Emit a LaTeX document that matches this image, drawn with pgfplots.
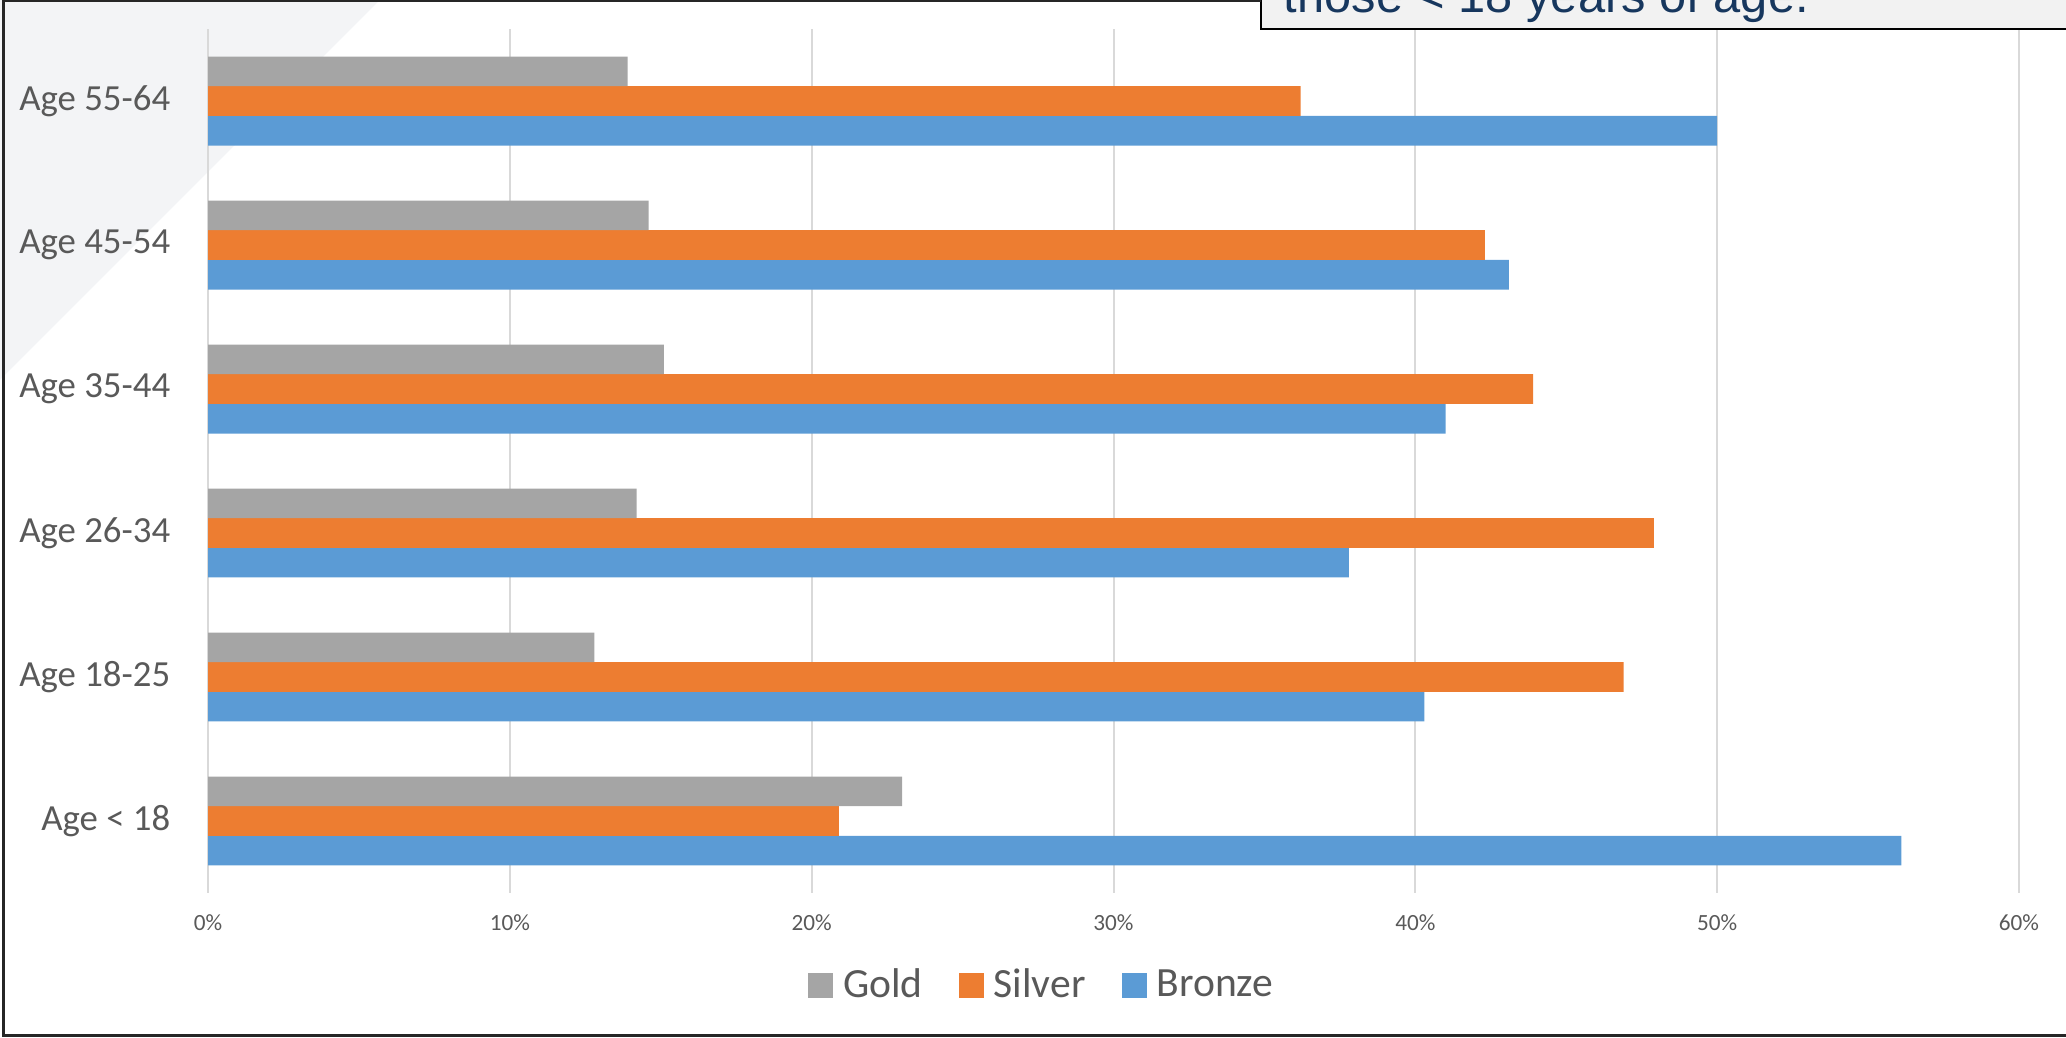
\documentclass[border=0pt]{standalone}
\usepackage{pgfplots}
\pgfplotsset{compat=1.18}
\usepackage{fontspec}
\setmainfont{Carlito}
\newfontfamily\arialf{Liberation Sans}
\definecolor{cgold}{HTML}{A5A5A5}
\definecolor{csilver}{HTML}{ED7D31}
\definecolor{cbronze}{HTML}{5B9BD5}
\definecolor{ctext}{HTML}{595959}
\definecolor{cgrid}{HTML}{D9D9D9}
\definecolor{ctri}{HTML}{F3F4F6}
\definecolor{cbox}{HTML}{F2F2F2}
\definecolor{cboxtext}{HTML}{17375E}
\begin{document}
\begin{tikzpicture}[x=0.25pt,y=0.25pt]
\useasboundingbox (0,0) rectangle (2066,1038);
\clip (0,0) rectangle (2066,1038);
\fill[ctri] (0,1038) -- (380,1038) -- (0,658) -- cycle;
\begin{axis}[
  at={(52pt,36.25pt)}, anchor=south west,
  scale only axis, width=452.75pt, height=216pt,
  xbar, xmin=0, xmax=60, ymin=-0.5, ymax=5.5,
  bar width=0.206,
  axis line style={draw=none},
  major tick length=0pt,
  xtick={0,10,...,60},
  xticklabels={0\%,10\%,20\%,30\%,40\%,50\%,60\%},
  ytick={0,...,5},
  yticklabels={Age < 18, Age 18-25, Age 26-34, Age 35-44, Age 45-54, Age 55-64},
  xmajorgrids, grid style={cgrid, line width=0.5pt},
  xticklabel style={font=\fontsize{5.8}{7}\selectfont, text=ctext, inner sep=0pt, anchor=base, yshift=-9.5pt},
  yticklabel style={font=\fontsize{9.2}{11}\selectfont, text=ctext, inner sep=0pt, anchor=east, xshift=-9.25pt},
  legend columns=3, reverse legend,
  legend style={draw=none, fill=none, at={(0.331,-0.1076)}, anchor=west,
    font=\fontsize{10.4}{12}\selectfont, text=ctext, inner sep=0pt, nodes={inner sep=0pt},
    /tikz/every odd column/.append style={column sep=2.5pt},
    /tikz/every even column/.append style={column sep=9pt}},
  legend image code/.code={\fill[#1] (0pt,-3.125pt) rectangle (6.25pt,3.125pt);},
]
\addplot[fill=cbronze, draw=none, bar shift=-0.206] coordinates {(56.1,0) (40.3,1) (37.8,2) (41.0,3) (43.1,4) (50.0,5)};
\addplot[fill=csilver, draw=none, bar shift=0] coordinates {(20.9,0) (46.9,1) (47.9,2) (43.9,3) (42.3,4) (36.2,5)};
\addplot[fill=cgold, draw=none, bar shift=0.206] coordinates {(23.0,0) (12.8,1) (14.2,2) (15.1,3) (14.6,4) (13.9,5)};
\legend{Bronze,Silver,Gold}
\end{axis}
\filldraw[fill=cbox, draw=black, line width=0.5pt] (1261,1060) rectangle (2120,1009);
\node[anchor=base west, inner sep=0pt, text=cboxtext, font=\arialf\fontsize{12.2}{14}\selectfont] at (1283,1025) {those < 18 years of age.};
\draw[line width=0.75pt, black!85] (1261,1037) -- (3,1037) -- (3,2) -- (2120,2);
\end{tikzpicture}
\end{document}
